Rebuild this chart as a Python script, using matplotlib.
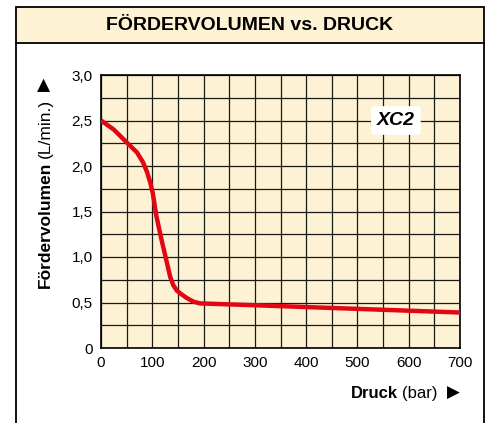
import matplotlib
matplotlib.use("Agg")
import matplotlib.pyplot as plt
from matplotlib.patches import Rectangle
from matplotlib.lines import Line2D

plt.rcParams['font.family'] = ['Liberation Sans', 'DejaVu Sans']

# curve
druck = [0, 25, 50, 70, 82, 90, 96, 101, 108, 118, 128, 135, 141, 148, 157, 167, 180, 193,
         300, 400, 500, 600, 700]
volumen = [2.5, 2.40, 2.26, 2.15, 2.04, 1.93, 1.82, 1.70, 1.45, 1.19, 0.95, 0.78, 0.69, 0.63,
           0.59, 0.55, 0.51, 0.49, 0.47, 0.45, 0.43, 0.41, 0.39]

x_ticks = [0, 100, 200, 300, 400, 500, 600, 700]
y_ticks = [0, 0.5, 1.0, 1.5, 2.0, 2.5, 3.0]
y_tick_labels = ["0", "0,5", "1,0", "1,5", "2,0", "2,5", "3,0"]

W, H = 487, 423
cream = "#fdf2d4"
red = "#e30613"

fig = plt.figure(figsize=(W / 100, H / 100), dpi=100)

def fx(px):
    return px / W

def fy(py):
    return 1 - py / H

# outer frame and title band
fig.add_artist(Rectangle((fx(16), fy(43)), fx(484) - fx(16), fy(7) - fy(43),
                         transform=fig.transFigure, facecolor=cream, edgecolor="black", lw=1.3))
for xp in (16, 484):
    fig.add_artist(Line2D([fx(xp), fx(xp)], [0, fy(43)], transform=fig.transFigure,
                          color="black", lw=1.3))
fig.text(fx(250), fy(25), "FÖRDERVOLUMEN vs. DRUCK", ha="center", va="center",
         fontsize=14, fontweight="bold")

ax = fig.add_axes([fx(101), fy(348), fx(460) - fx(101), fy(75) - fy(348)])
ax.set_facecolor(cream)
ax.set_xlim(0, 700)
ax.set_ylim(0, 3.0)
ax.set_xticks(range(0, 701, 50), minor=True)
ax.set_yticks([i * 0.25 for i in range(13)], minor=True)
ax.set_xticks(x_ticks)
ax.set_yticks(y_ticks)
ax.set_yticklabels(y_tick_labels)
ax.grid(True, which="both", color="#1a1a1a", lw=0.9)
ax.tick_params(which="both", length=0, labelsize=11, pad=6)
for s in ax.spines.values():
    s.set_linewidth(1.2)

ax.plot(druck, volumen, color=red, lw=3.2, solid_capstyle="butt", solid_joinstyle="round", zorder=3)

ax.text(575, 2.5, "XC2", ha="center", va="center", fontsize=14, fontweight="bold",
        fontstyle="italic", zorder=4,
        bbox=dict(boxstyle="round,pad=0.3,rounding_size=0.15", facecolor="white", edgecolor="none"))

# axis labels, pieces chained from their rendered sizes
r = fig.canvas.get_renderer()
arrow_x = fig.text(fx(460), fy(393), "▶", ha="right", va="center", fontsize=12,
                   family=["DejaVu Sans"])
x0 = arrow_x.get_window_extent(r).x0 - 10
bar = fig.text(x0 / W, fy(393), "(bar)", ha="right", va="center", fontsize=12)
x0 = bar.get_window_extent(r).x0 - 4
fig.text(x0 / W, fy(393), "Druck", ha="right", va="center", fontsize=12, fontweight="bold")

lab = fig.text(fx(45), fy(288), "Fördervolumen", rotation=90, ha="center", va="bottom",
               fontsize=12.5, fontweight="bold")
y1 = lab.get_window_extent(r).y1 + 4
unit = fig.text(fx(45), y1 / H, "(L/min.)", rotation=90, ha="center", va="bottom", fontsize=12.5)
y1 = unit.get_window_extent(r).y1 + 7
fig.text(fx(45), y1 / H, "▶", rotation=90, ha="center", va="bottom", fontsize=12.5,
         family=["DejaVu Sans"])

fig.savefig("out.png", dpi=100)
